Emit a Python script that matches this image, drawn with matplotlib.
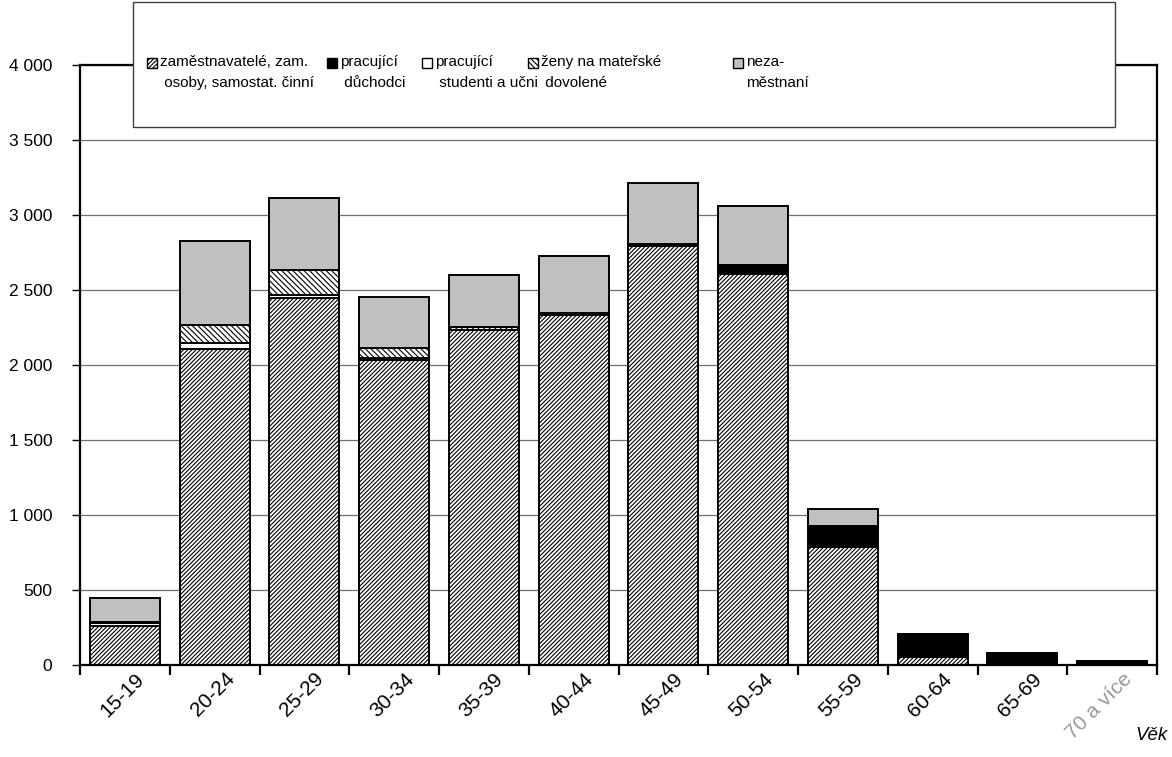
"""Věková struktura ekonomicky aktivních - skládaný sloupcový graf."""
import numpy as np
import matplotlib
matplotlib.use("Agg")
import matplotlib.pyplot as plt
from matplotlib.patches import Rectangle
from matplotlib.ticker import FuncFormatter, MultipleLocator
from matplotlib.transforms import ScaledTranslation

categories = ["15-19", "20-24", "25-29", "30-34", "35-39", "40-44",
              "45-49", "50-54", "55-59", "60-64", "65-69", "70 a více"]
employees = [260, 2105, 2445, 2035, 2235, 2335, 2795, 2610, 790, 55, 0, 0]
retirees = [0, 0, 0, 0, 0, 0, 0, 50, 140, 150, 80, 27]
students = [20, 40, 20, 10, 0, 0, 0, 0, 0, 0, 0, 0]
maternity = [8, 120, 170, 70, 20, 10, 10, 5, 0, 0, 0, 0]
unemployed = [158, 560, 478, 340, 345, 380, 408, 395, 110, 0, 0, 0]

labels = ["zaměstnavatelé, zam.\n osoby, samostat. činní", "pracující\n důchodci",
          "pracující\n studenti a učni", "ženy na mateřské\n dovolené", "neza-\nměstnaní"]

W, H = 1172, 757
plt.rcParams["font.family"] = ["Liberation Sans", "DejaVu Sans"]
plt.rcParams["hatch.linewidth"] = 0.8
plt.rcParams["hatch.color"] = "black"

STYLES = [
    dict(facecolor="white", hatch="////////"),
    dict(facecolor="black", hatch=None),
    dict(facecolor="white", hatch=None),
    dict(facecolor="white", hatch="\\\\\\\\\\\\"),
    dict(facecolor="#C0C0C0", hatch=None),
]


def main():
    fig = plt.figure(figsize=(W / 100, H / 100), dpi=100)
    ax = fig.add_axes([80 / W, 1 - 665 / H, (1157 - 80) / W, 600 / H])

    x = np.arange(len(categories))
    bottom = np.zeros(len(categories))
    for vals, st in zip([employees, retirees, students, maternity, unemployed], STYLES):
        vals = np.array(vals, dtype=float)
        ax.bar(x, vals, 0.78, bottom=bottom, edgecolor="black", linewidth=1.4,
               facecolor=st["facecolor"], hatch=st["hatch"], zorder=2)
        bottom += vals

    ax.set_xlim(-0.5, len(categories) - 0.5)
    ax.set_ylim(0, 4000)
    ax.yaxis.set_major_locator(MultipleLocator(500))
    ax.yaxis.set_major_formatter(FuncFormatter(lambda v, p: f"{int(v):,}".replace(",", " ")))
    ax.grid(axis="y", color="#707070", linewidth=0.9)
    ax.set_axisbelow(True)
    for s in ax.spines.values():
        s.set_linewidth(1.6)
    ax.tick_params(axis="y", length=6, width=1, labelsize=12.5, pad=14)

    ax.set_xticks(x)
    ax.set_xticks(np.arange(-0.5, len(categories)), minor=True)
    ax.tick_params(axis="x", which="major", length=0, pad=3)
    ax.tick_params(axis="x", which="minor", length=7, width=1.6)
    ax.set_xticklabels(categories, rotation=45, ha="right", rotation_mode="anchor",
                       fontsize=15)
    shift = ScaledTranslation(10 / 100, 0, fig.dpi_scale_trans)
    for t in ax.get_xticklabels():
        t.set_transform(t.get_transform() + shift)
    ax.get_xticklabels()[-1].set_color("#999999")

    fig.text(1168 / W, 1 - 735 / H, "Věk", fontsize=13.5, style="italic",
             ha="right", va="center")

    # legend box drawn by hand so the swatch sits on the first text line
    fig.add_artist(Rectangle((133 / W, 1 - 127 / H), 982 / W, 125 / H,
                             transform=fig.transFigure, facecolor="white",
                             edgecolor="#404040", linewidth=1.0, zorder=5))
    hx = [147, 327, 422, 528, 733]
    for px, lab, st in zip(hx, labels, STYLES):
        fig.add_artist(Rectangle((px / W, 1 - 68 / H), 10 / W, 10 / H,
                                 transform=fig.transFigure, facecolor=st["facecolor"],
                                 hatch=st["hatch"], edgecolor="black", linewidth=1.0,
                                 zorder=6))
        fig.text((px + 13) / W, 1 - 55 / H, lab, fontsize=11, va="top", ha="left",
                 linespacing=1.6, zorder=6)

    fig.savefig("out.png", dpi=100)


if __name__ == "__main__":
    main()
